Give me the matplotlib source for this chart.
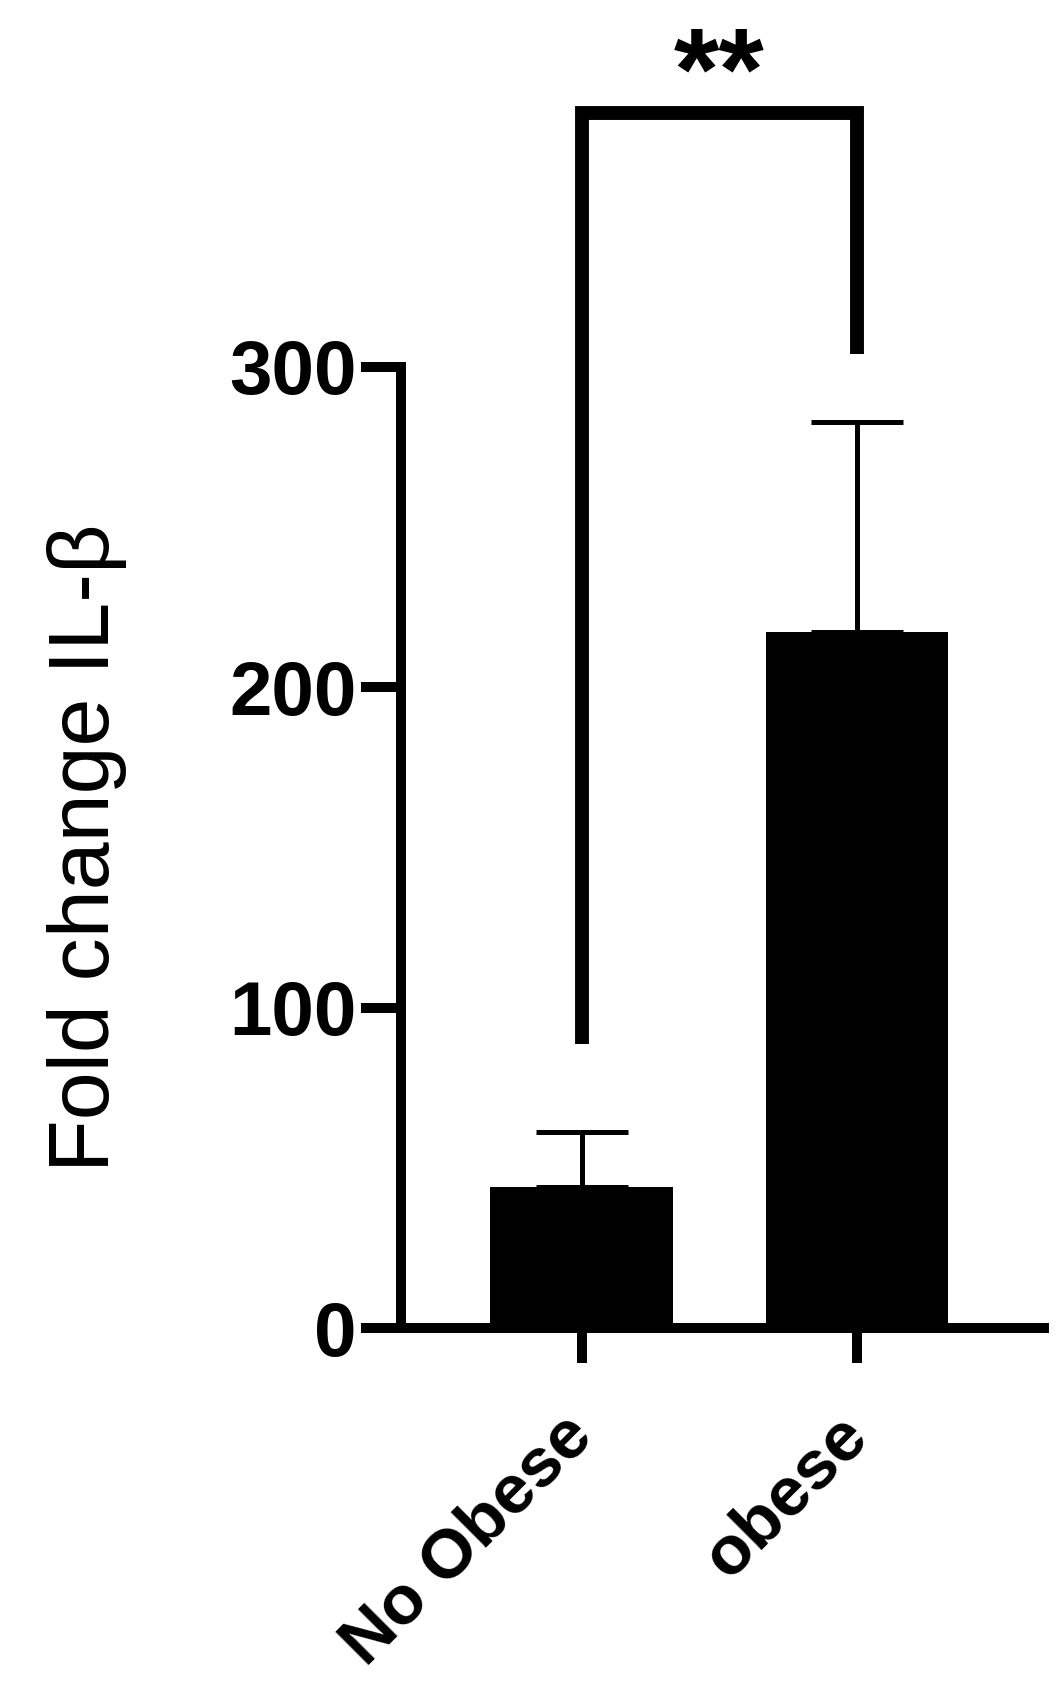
import matplotlib
matplotlib.use("Agg")
import matplotlib.pyplot as plt

categories = ["No Obese", "obese"]
means = [44.0, 217.3]
sem_upper = [17.2, 65.6]
bracket_left_bottom = 88.7
bracket_right_bottom = 304.0
bracket_top = 379.3
sig_label = "**"
y_ticks = [0, 100, 200, 300]
y_label = "Fold change IL-\u03b2"

plt.rcParams['font.family'] = ['Liberation Sans', 'DejaVu Sans']

fig = plt.figure(figsize=(10.63, 17.02), dpi=100)
ax = fig.add_axes([0.3772, 0.2197, 0.6049, 0.5647])

x = list(range(len(categories)))
ax.bar(x, means, width=0.665, color='black', edgecolor='black', linewidth=0, zorder=2)
ax.errorbar(x, means, yerr=[[0] * len(means), sem_upper], fmt='none', ecolor='black',
            elinewidth=3.6, capsize=33, capthick=3.6, clip_on=False, zorder=3)

ax.plot([0, 0, 1, 1], [bracket_left_bottom, bracket_top, bracket_top, bracket_right_bottom],
        color='black', lw=10, solid_joinstyle='miter', solid_capstyle='butt', clip_on=False)
ax.text(0.5, bracket_top + 1, sig_label, ha='center', va='baseline', fontsize=84,
        fontweight='bold', clip_on=False)

ax.set_xlim(-0.658, 1.68)
ax.set_ylim(0, 300)
ax.set_yticks(y_ticks)
ax.set_yticklabels([str(v) for v in y_ticks], fontsize=55, fontweight='bold')
ax.set_xticks(x)
ax.set_xticklabels(categories, fontsize=50, fontweight='bold', rotation=45,
                   ha='right', va='center', rotation_mode='anchor')
ax.set_ylabel(y_label, fontsize=62, labelpad=74)

for s in ['top', 'right']:
    ax.spines[s].set_visible(False)
for s in ['left', 'bottom']:
    ax.spines[s].set_linewidth(7.2)
    ax.spines[s].set_capstyle('projecting')
ax.tick_params(axis='y', length=28.8, width=7.2, pad=3)
ax.tick_params(axis='x', length=25, width=7.2, pad=45)

fig.savefig("out.png", dpi=100)
